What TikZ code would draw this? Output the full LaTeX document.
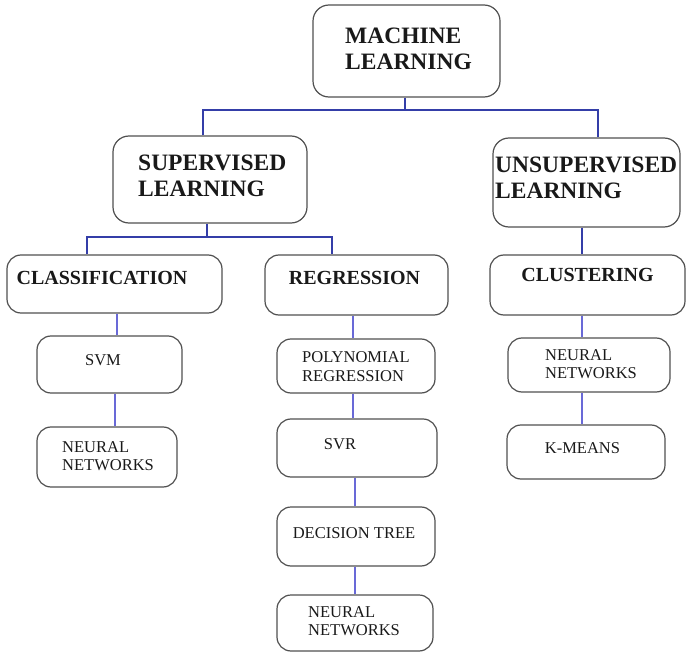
\documentclass[tikz,border=0pt]{standalone}
\usepackage{fontspec}
\setmainfont{Liberation Serif}
\definecolor{boxgray}{RGB}{80,80,80}
\definecolor{trunkblue}{RGB}{52,62,168}
\definecolor{twigblue}{RGB}{105,105,215}
\begin{document}
\begin{tikzpicture}[x=1pt,y=-1pt,
  box/.style={draw=boxgray, line width=1.2pt, rounded corners=14pt, inner sep=0pt},
  lbl/.style={inner sep=0pt, align=left, text=black!90},
  trunk/.style={draw=trunkblue, line width=2.6pt},
  twig/.style={draw=twigblue, line width=1.1pt},
  big/.style={font=\fontsize{23.5}{26}\selectfont\bfseries},
  mid/.style={font=\fontsize{20}{24}\selectfont\bfseries},
  small/.style={font=\fontsize{16.5}{18.5}\selectfont}]
\useasboundingbox (0,0) rectangle (686,658);

% ---- boxes
\node[box, rounded corners=16pt, minimum width=187pt, minimum height=92pt] (ml)   at (406.5,51) {};
\node[box, rounded corners=16pt, minimum width=194pt, minimum height=87pt] (sup)  at (210,179.5) {};
\node[box, rounded corners=16pt, minimum width=187pt, minimum height=89pt] (uns)  at (586.5,182.5) {};
\node[box, minimum width=215pt, minimum height=58pt] (cls)  at (114.5,284) {};
\node[box, minimum width=183pt, minimum height=60pt] (reg)  at (356.5,285) {};
\node[box, minimum width=195pt, minimum height=60pt] (clu)  at (587.5,285) {};
\node[box, minimum width=145pt, minimum height=57pt] (svm)  at (109.5,364.5) {};
\node[box, minimum width=140pt, minimum height=60pt] (nna)  at (107,457) {};
\node[box, minimum width=158pt, minimum height=54pt] (poly) at (356,366) {};
\node[box, minimum width=160pt, minimum height=58pt] (svr)  at (357,448) {};
\node[box, minimum width=158pt, minimum height=59pt] (dt)   at (356,536.5) {};
\node[box, minimum width=156pt, minimum height=56pt] (nnb)  at (355,623) {};
\node[box, minimum width=162pt, minimum height=54pt] (nnc)  at (589,365) {};
\node[box, minimum width=158pt, minimum height=54pt] (km)   at (586,452) {};

% ---- labels
\node[lbl, big, anchor=west] (tml)  at (345,48.5)  {MACHINE\\LEARNING};
\node[lbl, big, anchor=west] (tsup) at (138,175.5) {SUPERVISED\\LEARNING};
\node[lbl, big, anchor=west] (tuns) at (495,177.5) {UNSUPERVISED\\LEARNING};
\node[lbl, mid] (tcls) at (102,278)   {CLASSIFICATION};
\node[lbl, mid] (treg) at (354.5,278) {REGRESSION};
\node[lbl, mid] (tclu) at (587.5,275) {CLUSTERING};
\node[lbl, small] (tsvm) at (103,360) {SVM};
\node[lbl, small, anchor=west] (tnna) at (62,456) {NEURAL\\NETWORKS};
\node[lbl, small, anchor=west] (tpoly) at (302,366.7) {POLYNOMIAL\\REGRESSION};
\node[lbl, small] (tsvr) at (340,444) {SVR};
\node[lbl, small] (tdt) at (354,533) {DECISION TREE};
\node[lbl, small, anchor=west] (tnnb) at (308,621) {NEURAL\\NETWORKS};
\node[lbl, small, anchor=west] (tnnc) at (545,364) {NEURAL\\NETWORKS};
\node[lbl, small] (tkm) at (582.5,448) {K-MEANS};

% ---- bus points
\coordinate (b1) at (405,110);
\coordinate (bl) at (203,110);
\coordinate (br) at (598,110);
\coordinate (c0) at (207,237);
\coordinate (cl) at (87,237);
\coordinate (cr) at (332,237);
\coordinate (u0) at (582,0);
\coordinate (x1) at (117,0);
\coordinate (x2) at (115,0);
\coordinate (x3) at (353,0);
\coordinate (x4) at (355,0);

% ---- main branches
\draw[trunk] (ml.south -| b1) -- (b1);
\draw[trunk] (sup.north -| bl) -- (bl) -- (br) -- (uns.north -| br);
\draw[trunk] (sup.south -| c0) -- (c0);
\draw[trunk] (cls.north -| cl) -- (cl) -- (cr) -- (reg.north -| cr);
\draw[trunk] (uns.south -| u0) -- (clu.north -| u0);

% ---- leaf links
\draw[twig] (cls.south -| x1) -- (svm.north -| x1);
\draw[twig] (svm.south -| x2) -- (nna.north -| x2);
\draw[twig] (reg.south -| x3) -- (poly.north -| x3);
\draw[twig] (poly.south -| x3) -- (svr.north -| x3);
\draw[twig] (svr.south -| x4) -- (dt.north -| x4);
\draw[twig] (dt.south -| x4) -- (nnb.north -| x4);
\draw[twig] (clu.south -| u0) -- (nnc.north -| u0);
\draw[twig] (nnc.south -| u0) -- (km.north -| u0);
\end{tikzpicture}
\end{document}
